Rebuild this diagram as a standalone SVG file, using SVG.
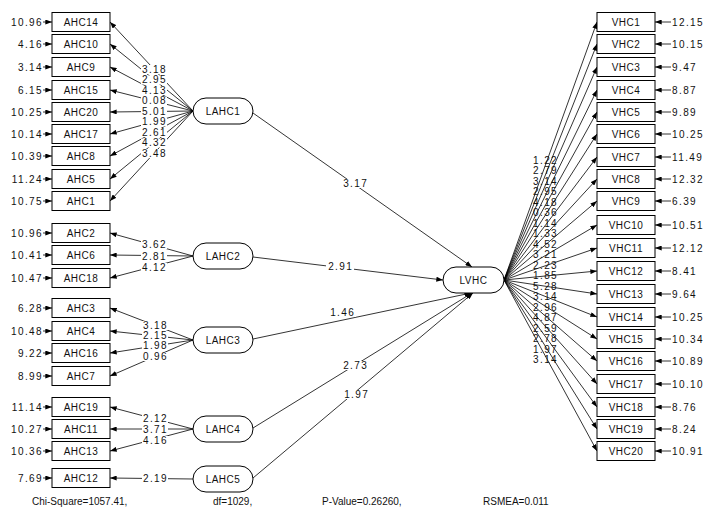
<svg xmlns="http://www.w3.org/2000/svg" width="710" height="515" viewBox="0 0 710 515">
<defs>
<marker id="ah" viewBox="0 0 8 6" refX="8" refY="3" markerWidth="7" markerHeight="5" markerUnits="userSpaceOnUse" orient="auto"><path d="M0,0 L8,3 L0,6 z" fill="#000"/></marker>
<style>
.box{fill:#fff;stroke:#000;stroke-width:1}
.lat{fill:#fff;stroke:#000;stroke-width:1}
.bg{fill:#fff;stroke:none}
.t{font-family:"Liberation Sans",Arial,sans-serif;font-size:10px;fill:#111}
.c{text-anchor:middle}
.e{text-anchor:end}
.n{letter-spacing:1.4px}
.nm{letter-spacing:0.5px}
.ln{stroke:#000;stroke-width:0.8;fill:none;marker-end:url(#ah)}
</style>
</defs>
<rect width="710" height="515" fill="#fff"/>

<g id="connectors">
<line class="ln" x1="193" y1="111" x2="110" y2="22"/>
<line class="ln" x1="193" y1="111" x2="110" y2="44"/>
<line class="ln" x1="193" y1="111" x2="110" y2="67"/>
<line class="ln" x1="193" y1="111" x2="110" y2="90"/>
<line class="ln" x1="193" y1="111" x2="110" y2="112"/>
<line class="ln" x1="193" y1="111" x2="110" y2="134"/>
<line class="ln" x1="193" y1="111" x2="110" y2="156"/>
<line class="ln" x1="193" y1="111" x2="110" y2="179"/>
<line class="ln" x1="193" y1="111" x2="110" y2="201"/>
<line class="ln" x1="193" y1="256" x2="110" y2="233"/>
<line class="ln" x1="193" y1="256" x2="110" y2="255"/>
<line class="ln" x1="193" y1="256" x2="110" y2="278"/>
<line class="ln" x1="193" y1="340" x2="110" y2="308"/>
<line class="ln" x1="193" y1="340" x2="110" y2="331"/>
<line class="ln" x1="193" y1="340" x2="110" y2="353"/>
<line class="ln" x1="193" y1="340" x2="110" y2="376"/>
<line class="ln" x1="193" y1="429" x2="110" y2="407"/>
<line class="ln" x1="193" y1="429" x2="110" y2="429"/>
<line class="ln" x1="193" y1="429" x2="110" y2="451"/>
<line class="ln" x1="193" y1="479" x2="110" y2="478"/>
<line class="ln" x1="253" y1="113" x2="472" y2="267"/>
<line class="ln" x1="253" y1="257" x2="443" y2="280"/>
<line class="ln" x1="253" y1="339" x2="471" y2="293"/>
<line class="ln" x1="253" y1="428" x2="472" y2="293"/>
<line class="ln" x1="253" y1="478" x2="473" y2="293"/>
<line class="ln" x1="504" y1="280" x2="597" y2="22"/>
<line class="ln" x1="504" y1="280" x2="597" y2="44"/>
<line class="ln" x1="504" y1="280" x2="597" y2="67"/>
<line class="ln" x1="504" y1="280" x2="597" y2="90"/>
<line class="ln" x1="504" y1="280" x2="597" y2="112"/>
<line class="ln" x1="504" y1="280" x2="597" y2="134"/>
<line class="ln" x1="504" y1="280" x2="597" y2="157"/>
<line class="ln" x1="504" y1="280" x2="597" y2="179"/>
<line class="ln" x1="504" y1="280" x2="597" y2="201"/>
<line class="ln" x1="504" y1="280" x2="597" y2="225"/>
<line class="ln" x1="504" y1="280" x2="597" y2="248"/>
<line class="ln" x1="504" y1="280" x2="597" y2="271"/>
<line class="ln" x1="504" y1="280" x2="597" y2="294"/>
<line class="ln" x1="504" y1="280" x2="597" y2="317"/>
<line class="ln" x1="504" y1="280" x2="597" y2="339"/>
<line class="ln" x1="504" y1="280" x2="597" y2="361"/>
<line class="ln" x1="504" y1="280" x2="597" y2="384"/>
<line class="ln" x1="504" y1="280" x2="597" y2="407"/>
<line class="ln" x1="504" y1="280" x2="597" y2="429"/>
<line class="ln" x1="504" y1="280" x2="597" y2="451"/>
<line class="ln" x1="43" y1="22" x2="52" y2="22"/>
<line class="ln" x1="43" y1="44" x2="52" y2="44"/>
<line class="ln" x1="43" y1="67" x2="52" y2="67"/>
<line class="ln" x1="43" y1="90" x2="52" y2="90"/>
<line class="ln" x1="43" y1="112" x2="52" y2="112"/>
<line class="ln" x1="43" y1="134" x2="52" y2="134"/>
<line class="ln" x1="43" y1="156" x2="52" y2="156"/>
<line class="ln" x1="43" y1="179" x2="52" y2="179"/>
<line class="ln" x1="43" y1="201" x2="52" y2="201"/>
<line class="ln" x1="43" y1="233" x2="52" y2="233"/>
<line class="ln" x1="43" y1="255" x2="52" y2="255"/>
<line class="ln" x1="43" y1="278" x2="52" y2="278"/>
<line class="ln" x1="43" y1="308" x2="52" y2="308"/>
<line class="ln" x1="43" y1="331" x2="52" y2="331"/>
<line class="ln" x1="43" y1="353" x2="52" y2="353"/>
<line class="ln" x1="43" y1="376" x2="52" y2="376"/>
<line class="ln" x1="43" y1="407" x2="52" y2="407"/>
<line class="ln" x1="43" y1="429" x2="52" y2="429"/>
<line class="ln" x1="43" y1="451" x2="52" y2="451"/>
<line class="ln" x1="43" y1="478" x2="52" y2="478"/>
<line class="ln" x1="671" y1="22" x2="655" y2="22"/>
<line class="ln" x1="671" y1="44" x2="655" y2="44"/>
<line class="ln" x1="671" y1="67" x2="655" y2="67"/>
<line class="ln" x1="671" y1="90" x2="655" y2="90"/>
<line class="ln" x1="671" y1="112" x2="655" y2="112"/>
<line class="ln" x1="671" y1="134" x2="655" y2="134"/>
<line class="ln" x1="671" y1="157" x2="655" y2="157"/>
<line class="ln" x1="671" y1="179" x2="655" y2="179"/>
<line class="ln" x1="671" y1="201" x2="655" y2="201"/>
<line class="ln" x1="671" y1="225" x2="655" y2="225"/>
<line class="ln" x1="671" y1="248" x2="655" y2="248"/>
<line class="ln" x1="671" y1="271" x2="655" y2="271"/>
<line class="ln" x1="671" y1="294" x2="655" y2="294"/>
<line class="ln" x1="671" y1="317" x2="655" y2="317"/>
<line class="ln" x1="671" y1="339" x2="655" y2="339"/>
<line class="ln" x1="671" y1="361" x2="655" y2="361"/>
<line class="ln" x1="671" y1="384" x2="655" y2="384"/>
<line class="ln" x1="671" y1="407" x2="655" y2="407"/>
<line class="ln" x1="671" y1="429" x2="655" y2="429"/>
<line class="ln" x1="671" y1="451" x2="655" y2="451"/>
</g>

<g id="label-backgrounds">
<rect class="bg" x="141" y="65" width="26" height="9"/>
<rect class="bg" x="141" y="75.5" width="26" height="9"/>
<rect class="bg" x="141" y="86" width="26" height="9"/>
<rect class="bg" x="141" y="96.5" width="26" height="9"/>
<rect class="bg" x="141" y="107" width="26" height="9"/>
<rect class="bg" x="141" y="117.5" width="26" height="9"/>
<rect class="bg" x="141" y="128" width="26" height="9"/>
<rect class="bg" x="141" y="138.5" width="26" height="9"/>
<rect class="bg" x="141" y="149" width="26" height="9"/>
<rect class="bg" x="141" y="240" width="26" height="9"/>
<rect class="bg" x="141" y="252" width="26" height="9"/>
<rect class="bg" x="141" y="263" width="26" height="9"/>
<rect class="bg" x="142" y="321" width="26" height="9"/>
<rect class="bg" x="142" y="331" width="26" height="9"/>
<rect class="bg" x="142" y="341" width="26" height="9"/>
<rect class="bg" x="142" y="352" width="26" height="9"/>
<rect class="bg" x="142" y="414" width="26" height="9"/>
<rect class="bg" x="142" y="425" width="26" height="9"/>
<rect class="bg" x="142" y="436" width="26" height="9"/>
<rect class="bg" x="142" y="474" width="26" height="9"/>
<rect class="bg" x="341" y="179" width="28" height="9"/>
<rect class="bg" x="326" y="262" width="28" height="9"/>
<rect class="bg" x="328" y="308" width="28" height="9"/>
<rect class="bg" x="341" y="361" width="28" height="9"/>
<rect class="bg" x="342" y="390" width="28" height="9"/>
</g>

<g id="loadings" class="t n">
<text class="e" x="167" y="72.6">3.18</text>
<text class="e" x="167" y="83.1">2.95</text>
<text class="e" x="167" y="93.6">4.13</text>
<text class="e" x="167" y="104.1">0.08</text>
<text class="e" x="167" y="114.6">5.01</text>
<text class="e" x="167" y="125.1">1.99</text>
<text class="e" x="167" y="135.6">2.61</text>
<text class="e" x="167" y="146.1">4.32</text>
<text class="e" x="167" y="156.6">3.48</text>
<text class="e" x="167" y="247.6">3.62</text>
<text class="e" x="167" y="259.6">2.81</text>
<text class="e" x="167" y="270.6">4.12</text>
<text class="e" x="168" y="328.6">3.18</text>
<text class="e" x="168" y="338.6">2.15</text>
<text class="e" x="168" y="348.6">1.98</text>
<text class="e" x="168" y="359.6">0.96</text>
<text class="e" x="168" y="421.6">2.12</text>
<text class="e" x="168" y="432.6">3.71</text>
<text class="e" x="168" y="443.6">4.16</text>
<text class="e" x="168" y="481.6">2.19</text>
<text class="c" x="355.7" y="186.6">3.17</text>
<text class="c" x="340.7" y="269.6">2.91</text>
<text class="c" x="342.7" y="315.6">1.46</text>
<text class="c" x="355.7" y="368.6">2.73</text>
<text class="c" x="356.7" y="397.6">1.97</text>
<text x="533" y="163.6">1.22</text>
<text x="533" y="174.1">2.79</text>
<text x="533" y="184.6">3.14</text>
<text x="533" y="195.1">2.95</text>
<text x="533" y="205.6">4.18</text>
<text x="533" y="216.1">0.36</text>
<text x="533" y="226.6">1.14</text>
<text x="533" y="237.1">1.33</text>
<text x="533" y="247.6">4.52</text>
<text x="533" y="258.1">3.21</text>
<text x="533" y="268.6">2.23</text>
<text x="533" y="279.1">1.85</text>
<text x="533" y="289.6">5.28</text>
<text x="533" y="300.1">3.14</text>
<text x="533" y="310.6">2.96</text>
<text x="533" y="321.1">4.87</text>
<text x="533" y="331.6">2.59</text>
<text x="533" y="342.1">2.78</text>
<text x="533" y="352.6">1.97</text>
<text x="533" y="363.1">3.14</text>
</g>

<g id="errors" class="t n">
<text class="e" x="43" y="25.6">10.96</text>
<text class="e" x="43" y="47.6">4.16</text>
<text class="e" x="43" y="70.6">3.14</text>
<text class="e" x="43" y="93.6">6.15</text>
<text class="e" x="43" y="115.6">10.25</text>
<text class="e" x="43" y="137.6">10.14</text>
<text class="e" x="43" y="159.6">10.39</text>
<text class="e" x="43" y="182.6">11.24</text>
<text class="e" x="43" y="204.6">10.75</text>
<text class="e" x="43" y="236.6">10.96</text>
<text class="e" x="43" y="258.6">10.41</text>
<text class="e" x="43" y="281.6">10.47</text>
<text class="e" x="43" y="311.6">6.28</text>
<text class="e" x="43" y="334.6">10.48</text>
<text class="e" x="43" y="356.6">9.22</text>
<text class="e" x="43" y="379.6">8.99</text>
<text class="e" x="43" y="410.6">11.14</text>
<text class="e" x="43" y="432.6">10.27</text>
<text class="e" x="43" y="454.6">10.36</text>
<text class="e" x="43" y="481.6">7.69</text>
<text x="672" y="25.6">12.15</text>
<text x="672" y="47.6">10.15</text>
<text x="672" y="70.6">9.47</text>
<text x="672" y="93.6">8.87</text>
<text x="672" y="115.6">9.89</text>
<text x="672" y="137.6">10.25</text>
<text x="672" y="160.6">11.49</text>
<text x="672" y="182.6">12.32</text>
<text x="672" y="204.6">6.39</text>
<text x="672" y="228.6">10.51</text>
<text x="672" y="251.6">12.12</text>
<text x="672" y="274.6">8.41</text>
<text x="672" y="297.6">9.64</text>
<text x="672" y="320.6">10.25</text>
<text x="672" y="342.6">10.34</text>
<text x="672" y="364.6">10.89</text>
<text x="672" y="387.6">10.10</text>
<text x="672" y="410.6">8.76</text>
<text x="672" y="432.6">8.24</text>
<text x="672" y="454.6">10.91</text>
</g>

<g class="t c nm">
<g id="AHC14"><rect class="box" x="52" y="12.5" width="58" height="19"/><text x="81" y="25.6">AHC14</text></g>
<g id="AHC10"><rect class="box" x="52" y="34.5" width="58" height="19"/><text x="81" y="47.6">AHC10</text></g>
<g id="AHC9"><rect class="box" x="52" y="57.5" width="58" height="19"/><text x="81" y="70.6">AHC9</text></g>
<g id="AHC15"><rect class="box" x="52" y="80.5" width="58" height="19"/><text x="81" y="93.6">AHC15</text></g>
<g id="AHC20"><rect class="box" x="52" y="102.5" width="58" height="19"/><text x="81" y="115.6">AHC20</text></g>
<g id="AHC17"><rect class="box" x="52" y="124.5" width="58" height="19"/><text x="81" y="137.6">AHC17</text></g>
<g id="AHC8"><rect class="box" x="52" y="146.5" width="58" height="19"/><text x="81" y="159.6">AHC8</text></g>
<g id="AHC5"><rect class="box" x="52" y="169.5" width="58" height="19"/><text x="81" y="182.6">AHC5</text></g>
<g id="AHC1"><rect class="box" x="52" y="191.5" width="58" height="19"/><text x="81" y="204.6">AHC1</text></g>
<g id="AHC2"><rect class="box" x="52" y="223.5" width="58" height="19"/><text x="81" y="236.6">AHC2</text></g>
<g id="AHC6"><rect class="box" x="52" y="245.5" width="58" height="19"/><text x="81" y="258.6">AHC6</text></g>
<g id="AHC18"><rect class="box" x="52" y="268.5" width="58" height="19"/><text x="81" y="281.6">AHC18</text></g>
<g id="AHC3"><rect class="box" x="52" y="298.5" width="58" height="19"/><text x="81" y="311.6">AHC3</text></g>
<g id="AHC4"><rect class="box" x="52" y="321.5" width="58" height="19"/><text x="81" y="334.6">AHC4</text></g>
<g id="AHC16"><rect class="box" x="52" y="343.5" width="58" height="19"/><text x="81" y="356.6">AHC16</text></g>
<g id="AHC7"><rect class="box" x="52" y="366.5" width="58" height="19"/><text x="81" y="379.6">AHC7</text></g>
<g id="AHC19"><rect class="box" x="52" y="397.5" width="58" height="19"/><text x="81" y="410.6">AHC19</text></g>
<g id="AHC11"><rect class="box" x="52" y="419.5" width="58" height="19"/><text x="81" y="432.6">AHC11</text></g>
<g id="AHC13"><rect class="box" x="52" y="441.5" width="58" height="19"/><text x="81" y="454.6">AHC13</text></g>
<g id="AHC12"><rect class="box" x="52" y="468.5" width="58" height="19"/><text x="81" y="481.6">AHC12</text></g>

<g id="LAHC1"><rect class="lat" x="193" y="98" width="60" height="26" rx="13"/><text x="223" y="114.6">LAHC1</text></g>
<g id="LAHC2"><rect class="lat" x="193" y="243" width="60" height="26" rx="13"/><text x="223" y="259.6">LAHC2</text></g>
<g id="LAHC3"><rect class="lat" x="193" y="327" width="60" height="26" rx="13"/><text x="223" y="343.6">LAHC3</text></g>
<g id="LAHC4"><rect class="lat" x="193" y="416" width="60" height="26" rx="13"/><text x="223" y="432.6">LAHC4</text></g>
<g id="LAHC5"><rect class="lat" x="193" y="466" width="60" height="26" rx="13"/><text x="223" y="482.6">LAHC5</text></g>
<g id="LVHC"><rect class="lat" x="443" y="267" width="61" height="26" rx="13"/><text x="473.5" y="283.6">LVHC</text></g>

<g id="VHC1"><rect class="box" x="597" y="12.5" width="58" height="19"/><text x="626" y="25.6">VHC1</text></g>
<g id="VHC2"><rect class="box" x="597" y="34.5" width="58" height="19"/><text x="626" y="47.6">VHC2</text></g>
<g id="VHC3"><rect class="box" x="597" y="57.5" width="58" height="19"/><text x="626" y="70.6">VHC3</text></g>
<g id="VHC4"><rect class="box" x="597" y="80.5" width="58" height="19"/><text x="626" y="93.6">VHC4</text></g>
<g id="VHC5"><rect class="box" x="597" y="102.5" width="58" height="19"/><text x="626" y="115.6">VHC5</text></g>
<g id="VHC6"><rect class="box" x="597" y="124.5" width="58" height="19"/><text x="626" y="137.6">VHC6</text></g>
<g id="VHC7"><rect class="box" x="597" y="147.5" width="58" height="19"/><text x="626" y="160.6">VHC7</text></g>
<g id="VHC8"><rect class="box" x="597" y="169.5" width="58" height="19"/><text x="626" y="182.6">VHC8</text></g>
<g id="VHC9"><rect class="box" x="597" y="191.5" width="58" height="19"/><text x="626" y="204.6">VHC9</text></g>
<g id="VHC10"><rect class="box" x="597" y="215.5" width="58" height="19"/><text x="626" y="228.6">VHC10</text></g>
<g id="VHC11"><rect class="box" x="597" y="238.5" width="58" height="19"/><text x="626" y="251.6">VHC11</text></g>
<g id="VHC12"><rect class="box" x="597" y="261.5" width="58" height="19"/><text x="626" y="274.6">VHC12</text></g>
<g id="VHC13"><rect class="box" x="597" y="284.5" width="58" height="19"/><text x="626" y="297.6">VHC13</text></g>
<g id="VHC14"><rect class="box" x="597" y="307.5" width="58" height="19"/><text x="626" y="320.6">VHC14</text></g>
<g id="VHC15"><rect class="box" x="597" y="329.5" width="58" height="19"/><text x="626" y="342.6">VHC15</text></g>
<g id="VHC16"><rect class="box" x="597" y="351.5" width="58" height="19"/><text x="626" y="364.6">VHC16</text></g>
<g id="VHC17"><rect class="box" x="597" y="374.5" width="58" height="19"/><text x="626" y="387.6">VHC17</text></g>
<g id="VHC18"><rect class="box" x="597" y="397.5" width="58" height="19"/><text x="626" y="410.6">VHC18</text></g>
<g id="VHC19"><rect class="box" x="597" y="419.5" width="58" height="19"/><text x="626" y="432.6">VHC19</text></g>
<g id="VHC20"><rect class="box" x="597" y="441.5" width="58" height="19"/><text x="626" y="454.6">VHC20</text></g>
</g>

<g id="fit" class="t">
<text x="32" y="505">Chi-Square=1057.41,</text>
<text x="213" y="505">df=1029,</text>
<text x="322" y="505">P-Value=0.26260,</text>
<text x="483" y="505">RSMEA=0.011</text>
</g>
</svg>
